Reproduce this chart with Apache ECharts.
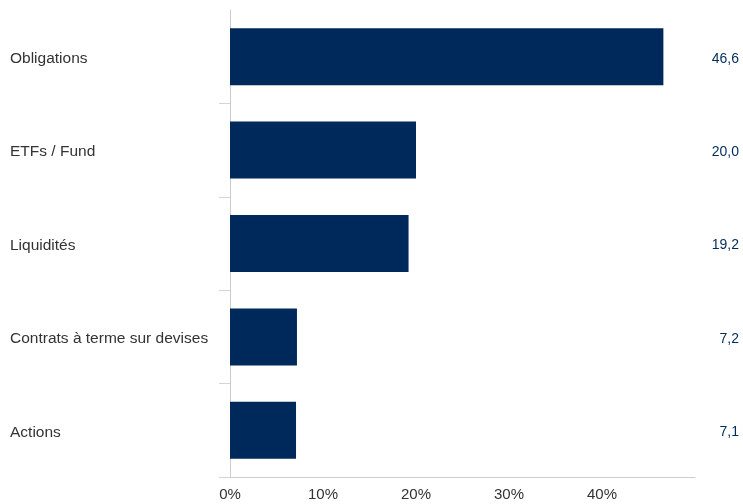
<!DOCTYPE html>
<html>
<head>
<meta charset="utf-8">
<script src="https://cdn.jsdelivr.net/npm/echarts@6/dist/echarts.min.js"></script>
<style>
html,body{margin:0;padding:0;background:#fff;}
#c{width:743px;height:504px;}
</style>
</head>
<body>
<div id="c"></div>
<script>
const categories = ['Obligations', 'ETFs / Fund', 'Liquidités', 'Contrats à terme sur devises', 'Actions'];
const values = [46.6, 20.0, 19.2, 7.2, 7.1];
const xTicks = [0, 10, 20, 30, 40];

const FONT = "'Liberation Sans', Arial, sans-serif";
const chart = echarts.init(document.getElementById('c'));
chart.setOption({
  animation: false,
  textStyle: { fontFamily: FONT },
  grid: { left: 230, right: 48, top: 10, bottom: 27, containLabel: false },
  xAxis: {
    type: 'value', min: 0, max: 50, interval: 10,
    axisLine: { show: true, lineStyle: { color: '#cccccc', width: 1 } },
    axisTick: { show: false },
    splitLine: { show: false },
    axisLabel: {
      color: '#333333', fontSize: 15, fontFamily: FONT, margin: 10,
      formatter: function (v) { return xTicks.indexOf(v) >= 0 ? v + '%' : ''; }
    }
  },
  yAxis: [{
    type: 'category', data: categories, inverse: true,
    axisLine: { show: true, lineStyle: { color: '#cccccc', width: 1 } },
    axisTick: { show: true, length: 11, lineStyle: { color: '#ccd6eb' },
      interval: function (i) { return i !== 0; } },
    axisLabel: {
      align: 'left', margin: 220,
      formatter: function (v) { return '{a|' + v + '}'; },
      rich: { a: { color: '#333333', fontSize: 15.5, fontFamily: FONT, padding: [4, 0, 0, 0] } }
    }
  }, {
    type: 'category', data: values, inverse: true, position: 'right',
    axisLine: { show: false }, axisTick: { show: false },
    axisLabel: {
      align: 'right', margin: 44,
      formatter: function (v) { return '{b|' + Number(v).toFixed(1).replace('.', ',') + '}'; },
      rich: { b: { color: '#002b5c', fontSize: 14, fontFamily: FONT, padding: [4, 0, 0, 0] } }
    }
  }],
  series: [{
    type: 'bar', data: values, yAxisIndex: 0,
    barCategoryGap: '39%',
    itemStyle: { color: '#00295b' },
    label: { show: false }
  }]
});
</script>
</body>
</html>
